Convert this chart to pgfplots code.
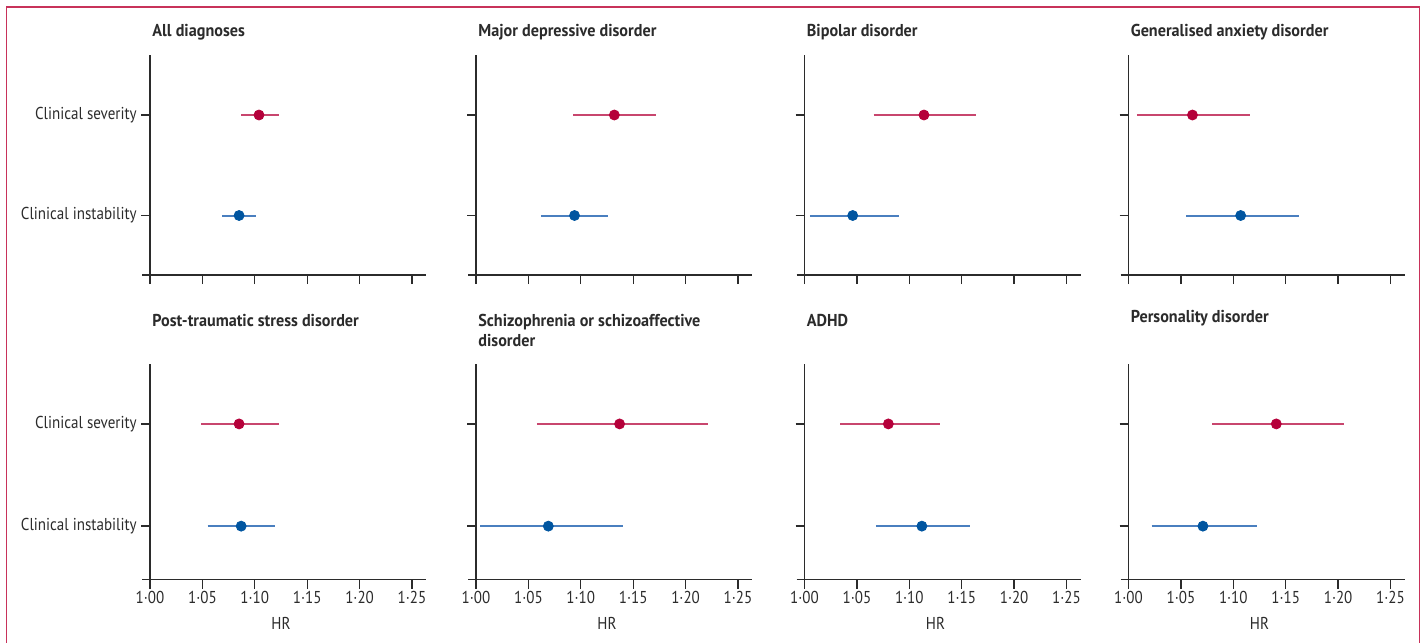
\documentclass[border=0pt]{standalone}
\usepackage{fontspec}
\setmainfont{PT Sans}[FakeStretch=0.875, BoldFeatures={FakeStretch=0.94}]
\usepackage{pgfplots}
\pgfplotsset{compat=1.18}

\definecolor{sevdot}{HTML}{B5003A}
\definecolor{sevline}{HTML}{C8466E}
\definecolor{insdot}{HTML}{0055A0}
\definecolor{insline}{HTML}{4A7FBF}
\definecolor{ink}{HTML}{2B2B2B}
\definecolor{framecol}{HTML}{C8325A}

\newcommand\lab{\fontsize{8.6}{10}\selectfont}
\newcommand\ttl{\fontsize{8.6}{10}\selectfont\bfseries}

% one estimate: y position, HR, lower, upper, colour prefix
\newcommand\est[5]{%
  \addplot[#5line, line width=1pt] coordinates {(#3,#1) (#4,#1)};
  \addplot[only marks, mark=*, mark size=2.5pt, #5dot] coordinates {(#2,#1)};
}

\pgfplotsset{
  forest/.style={
    scale only axis, width=138pt,
    xmin=1, xmax=1.26336,
    axis lines*=left,
    axis line style={ink, line width=0.75pt},
    tick align=outside, major tick length=4.5pt,
    every tick/.style={ink, line width=0.65pt},
    xtick={1,1.05,1.1,1.15,1.2,1.25},
    ytick={0,1},
    tick label style={font=\lab, text=ink},
    xticklabel style={anchor=base, yshift=-7.5pt},
    yticklabel style={xshift=1.4pt},
    xticklabels={}, yticklabels={},
    clip=false,
  },
  toprow/.style={forest, height=110.25pt, ymin=-0.592, ymax=1.602},
  botrow/.style={forest, height=108.1pt, ymin=-0.524, ymax=1.591,
    xticklabels={1·00,1·05,1·10,1·15,1·20,1·25}},
  ylabs/.style={yticklabels={Clinical instability,Clinical severity}},
}
\newcommand\stub{\draw[ink, line width=0.75pt] ([xshift=-4pt]rel axis cs:0,0) -- (rel axis cs:0,0);}
\newcommand\hr{\node[anchor=base, inner sep=0, font=\lab, text=ink] at ([yshift=-25pt]rel axis cs:0.4746,0) {HR};}
\newcommand\toptitle[1]{\node[anchor=base west, inner sep=0, font=\ttl, text=ink] at ([xshift=1pt, yshift=9pt]rel axis cs:0,1) {#1};}
\newcommand\bottitle[2][18.75pt]{\node[anchor=base west, inner sep=0, font=\ttl, text=ink] at ([xshift=1pt, yshift=#1]rel axis cs:0,1) {#2};}

\begin{document}
\begin{tikzpicture}
\useasboundingbox (0,0) rectangle (711pt,-321pt);
\draw[framecol, line width=0.75pt] (3.25pt,-330pt) -- (3.25pt,-3.5pt) -- (709.75pt,-3.5pt) -- (709.75pt,-330pt);

% top row
\begin{axis}[toprow, ylabs, at={(75pt,-137.5pt)}, anchor=south west]
\est{1}{1.104}{1.087}{1.123}{sev}
\est{0}{1.085}{1.069}{1.101}{ins}
\stub \toptitle{All diagnoses}
\end{axis}
\begin{axis}[toprow, at={(238pt,-137.5pt)}, anchor=south west]
\est{1}{1.132}{1.093}{1.172}{sev}
\est{0}{1.094}{1.062}{1.126}{ins}
\stub \toptitle{Major depressive disorder}
\end{axis}
\begin{axis}[toprow, at={(402.25pt,-137.5pt)}, anchor=south west]
\est{1}{1.114}{1.066}{1.164}{sev}
\est{0}{1.046}{1.005}{1.090}{ins}
\stub \toptitle{Bipolar disorder}
\end{axis}
\begin{axis}[toprow, at={(564.25pt,-137.5pt)}, anchor=south west]
\est{1}{1.061}{1.008}{1.116}{sev}
\est{0}{1.107}{1.055}{1.163}{ins}
\stub \toptitle{Generalised anxiety disorder}
\end{axis}

% bottom row
\begin{axis}[botrow, ylabs, at={(75pt,-289.85pt)}, anchor=south west]
\est{1}{1.085}{1.049}{1.123}{sev}
\est{0}{1.087}{1.055}{1.119}{ins}
\stub \hr \bottitle{Post-traumatic stress disorder}
\end{axis}
\begin{axis}[botrow, at={(238pt,-289.85pt)}, anchor=south west]
\est{1}{1.137}{1.058}{1.221}{sev}
\est{0}{1.069}{1.004}{1.140}{ins}
\stub \hr \bottitle{Schizophrenia or schizoaffective}
\bottitle[8.75pt]{disorder}
\end{axis}
\begin{axis}[botrow, at={(402.25pt,-289.85pt)}, anchor=south west]
\est{1}{1.080}{1.034}{1.129}{sev}
\est{0}{1.112}{1.068}{1.158}{ins}
\stub \hr \bottitle{ADHD}
\end{axis}
\begin{axis}[botrow, at={(564.25pt,-289.85pt)}, anchor=south west]
\est{1}{1.141}{1.080}{1.206}{sev}
\est{0}{1.071}{1.022}{1.123}{ins}
\stub \hr \bottitle[20.4pt]{Personality disorder}
\end{axis}
\end{tikzpicture}
\end{document}
